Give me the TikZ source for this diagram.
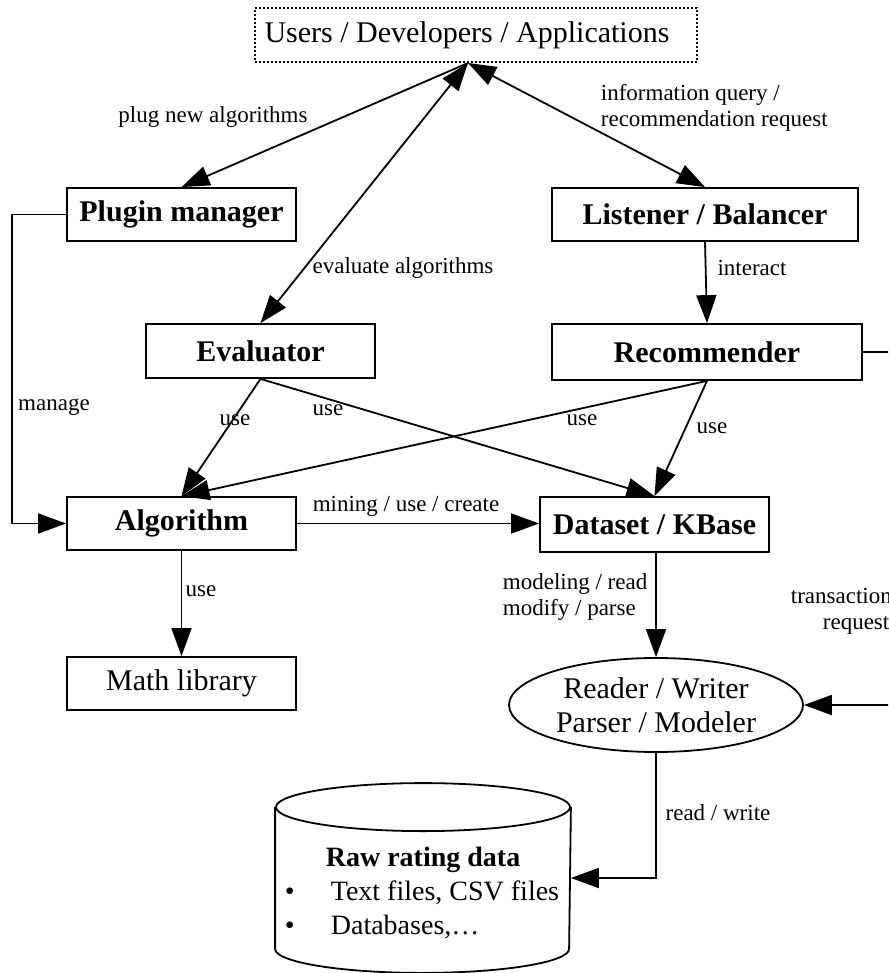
\documentclass[tikz,border=0pt]{standalone}
\usepackage{fontspec}
\setmainfont{Liberation Serif}
\usetikzlibrary{arrows.meta,shapes.geometric}
\begin{document}
\begin{tikzpicture}[x=1pt,y=-1pt,
  line width=1.8pt,
  box/.style={draw,rectangle,inner sep=0pt,minimum width=229pt,minimum height=53pt,
    font=\fontsize{30}{34}\selectfont\bfseries},
  plainbox/.style={box,font=\fontsize{30}{34}\selectfont},
  lbl/.style={inner sep=0pt,font=\fontsize{23}{26}\selectfont},
  arr/.style={-{Triangle[length=28pt,width=20pt]}},
  darr/.style={{Triangle[length=28pt,width=20pt]}-{Triangle[length=28pt,width=20pt]}}
]
\clip (0,0) rectangle (888,973);
\fill[white] (0,0) rectangle (888,973);

% nodes
\node[draw,dash pattern=on 2pt off 2pt,line width=1.4pt,inner sep=0pt,minimum width=442pt,minimum height=54pt,
  font=\fontsize{30}{34}\selectfont] (users) at (476,35) {Users / Developers / Applications\hspace*{18pt}};
\node[box] (plugin) at (181.5,214.5) {Plugin manager};
\node[box,minimum width=306pt] (listener) at (705,214.5) {Listener / Balancer};
\node[box,minimum height=54pt] (eval) at (260.5,351) {Evaluator};
\node[box,minimum width=310pt,minimum height=56pt] (rec) at (707,352) {Recommender};
\node[box] (alg) at (181.5,523.5) {Algorithm};
\node[box,minimum height=55pt] (data) at (654.5,524.5) {Dataset / KBase};
\node[plainbox] (math) at (181.5,683.5) {Math library};
\node[draw,ellipse,inner sep=0pt,minimum width=294pt,minimum height=94pt,align=center,
  font=\fontsize{30}{34}\selectfont] (rw) at (656,705) {Reader / Writer\\Parser / Modeler};

% cylinder
\node[inner sep=0pt,minimum width=294pt,minimum height=140pt] (db) at (423,878) {};
\draw (db.north west) -- (db.south west) arc[start angle=180,end angle=0,x radius=147,y radius=24] -- (db.north east);
\draw (db.north) ellipse [x radius=147,y radius=24];
\node[inner sep=0pt,anchor=west,align=left,font=\fontsize{28}{34}\selectfont] (dbtext) at (284,893)
  {\hspace*{41pt}\textbf{Raw rating data}\\\makebox[46pt][l]{•}Text files, CSV files\\\makebox[46pt][l]{•}Databases,…};

% connectors
\coordinate (top) at (468,63);
\draw[arr] (top) -- (plugin.north);
\draw[darr] (top) -- (eval.north);
\draw[darr] (top) -- (listener.north);
\draw[arr] (listener.south) -- (rec.north);
\draw[arr] (eval.south) -- (alg.north);
\draw[arr] (eval.south) -- (data.north);
\draw[arr] (rec.south) -- (alg.north);
\draw[arr] (rec.south) -- (data.north);
\draw[arr] (plugin.west) -- (12,214.5) -- (12,523.5) -- (alg.west);
\draw[arr] (alg.east) -- (data.west |- alg.east);
\draw[arr] (alg.south) -- (math.north);
\draw[arr] (data.south -| rw.north) -- (rw.north);
\draw[arr] (rw.south) |- (db.east);
\draw[arr] (rec.east) -- (900,352) -- (900,705) -- (rw.east);

% labels
\node[lbl] (l1) at (213,117) {plug new algorithms};
\node[lbl] (l2) at (403,268) {evaluate algorithms};
\node[lbl,anchor=west,align=left] (l3) at (600,108) {information query /\\recommendation request};
\node[lbl] (l4) at (752,268) {interact};
\node[lbl] (l5) at (54,407) {manage};
\node[lbl] (l6) at (235,420) {use};
\node[lbl] (l7) at (328,410) {use};
\node[lbl] (l8) at (582,420) {use};
\node[lbl] (l9) at (712,428) {use};
\node[lbl] (l10) at (406,506) {mining / use / create};
\node[lbl] (l11) at (201,591) {use};
\node[lbl,anchor=west,align=left] (l12) at (502,597) {modeling / read\\modify / parse};
\node[lbl] (l13) at (718,813) {read / write};
\node[lbl,anchor=west,align=left] (l14) at (790,611) {transaction\\\hspace*{32pt}request};
\end{tikzpicture}
\end{document}
